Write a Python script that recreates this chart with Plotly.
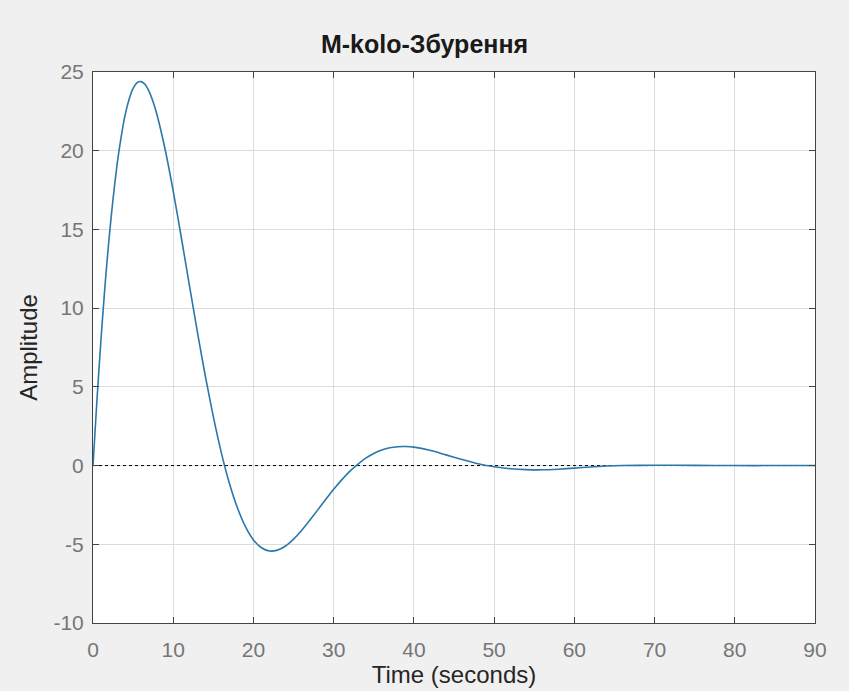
import plotly.graph_objects as go

# Time samples (seconds) and response amplitude
time_s = [0, 0.5, 1, 1.5, 2, 2.5, 3, 3.5, 4, 4.5, 5, 5.5, 6, 6.5, 7, 7.5, 8, 9, 10, 11, 12, 13, 14, 15,
          16, 17, 18, 19, 20, 21, 22, 23, 24, 25, 26, 27, 28, 29, 30, 31, 32, 33, 34, 35, 36, 37, 38,
          39, 40, 42, 44, 46, 48, 50, 52, 54, 56, 58, 60, 62, 64, 66, 70, 75, 80, 85, 90]
amplitude = [0, 4.23, 8.04, 11.45, 14.41, 16.95, 19.12, 20.85, 22.26, 23.27, 23.96, 24.32, 24.39, 24.2,
             23.75, 23.1, 22.24, 20.06, 17.43, 14.52, 11.50, 8.52, 5.69, 3.11, 0.81, -1.12, -2.68,
             -3.88, -4.72, -5.22, -5.43, -5.37, -5.11, -4.67, -4.12, -3.49, -2.83, -2.16, -1.51, -0.91,
             -0.37, 0.08, 0.47, 0.77, 0.99, 1.13, 1.20, 1.21, 1.17, 0.97, 0.68, 0.39, 0.12, -0.08,
             -0.20, -0.26, -0.27, -0.23, -0.16, -0.09, -0.03, 0.0, 0.02, 0.01, 0.0, 0.0, 0.0]

x_ticks = [0, 10, 20, 30, 40, 50, 60, 70, 80, 90]
x_tick_labels = ["0", "10", "20", "30", "40", "50", "60", "70", "80", "90"]
y_ticks = [-10, -5, 0, 5, 10, 15, 20, 25]
y_tick_labels = ["-10", "-5", "0", "5", "10", "15", "20", "25"]
zero_line_x = [0, 90]
zero_line_y = [0, 0]

title_text = "M-kolo-Збурення"
x_title = "Time (seconds)"
y_title = "Amplitude"

font_family = "Liberation Sans, Arial, sans-serif"

fig = go.Figure()
fig.add_trace(go.Scatter(x=zero_line_x, y=zero_line_y, mode="lines",
                         line=dict(color="#000000", width=1, dash="dot"),
                         hoverinfo="skip", showlegend=False))
fig.add_trace(go.Scatter(x=time_s, y=amplitude, mode="lines",
                         line=dict(color="#2a78ab", width=1.6, shape="spline", smoothing=0.6),
                         showlegend=False))

axis_common = dict(
    showgrid=True, gridcolor="#dcdcdc", gridwidth=1,
    showline=True, linecolor="#444444", linewidth=1, mirror="allticks",
    ticks="inside", ticklen=6, tickcolor="#444444",
    zeroline=False, automargin=False,
    tickfont=dict(family=font_family, size=21, color="#767676"),
)

fig.update_layout(
    width=849, height=691,
    paper_bgcolor="#f0f0f0", plot_bgcolor="#ffffff",
    margin=dict(l=93, r=34, t=72, b=68),
    title=dict(text="<b>" + title_text + "</b>", x=0.5, xanchor="center",
               y=1 - 44 / 691, yanchor="middle",
               font=dict(family=font_family, size=25, color="#1a1a1a")),
    xaxis=dict(range=[0, 90], tickvals=x_ticks, ticktext=x_tick_labels, ticklabelstandoff=8,
               title=dict(text=x_title, font=dict(family=font_family, size=24, color="#262626"), standoff=5),
               **axis_common),
    yaxis=dict(range=[-10, 25], tickvals=y_ticks, ticktext=y_tick_labels, ticklabelstandoff=4,
               title=dict(text=y_title, font=dict(family=font_family, size=24, color="#262626"), standoff=9),
               **axis_common),
)

fig.write_html("out.html")
